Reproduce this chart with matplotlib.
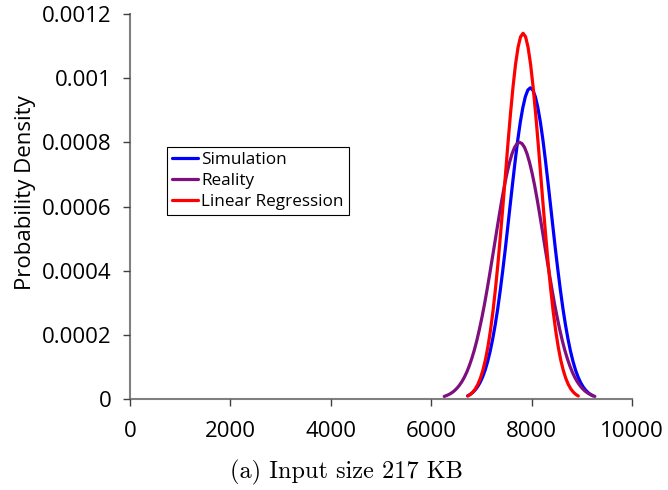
import numpy as np
from matplotlib import pyplot as plt
from matplotlib.ticker import FixedLocator, FixedFormatter

# values (x in KB, y = probability density)
sim_x = [6725, 6775, 6825, 6875, 6925, 6975, 7025, 7075, 7125, 7175, 7225, 7275, 7325,
         7375, 7425, 7475, 7525, 7575, 7625, 7675, 7725, 7775, 7825, 7875, 7925, 7975,
         8025, 8075, 8125, 8175, 8225, 8275, 8325, 8375, 8425, 8475, 8525, 8575, 8625,
         8675, 8725, 8775, 8825, 8875, 8925, 8975, 9025, 9075, 9125, 9175, 9225]
sim_y = [0.0000099, 0.0000142, 0.0000201, 0.0000280, 0.0000383, 0.0000517, 0.0000689,
         0.0000903, 0.000117, 0.000149, 0.000187, 0.000231, 0.000281, 0.000338, 0.000400,
         0.000466, 0.000536, 0.000607, 0.000677, 0.000745, 0.000808, 0.000863, 0.000908,
         0.000942, 0.000963, 0.000970, 0.000963, 0.000942, 0.000908, 0.000863, 0.000808,
         0.000745, 0.000677, 0.000607, 0.000536, 0.000466, 0.000400, 0.000338, 0.000281,
         0.000231, 0.000187, 0.000149, 0.000117, 0.0000903, 0.0000689, 0.0000517,
         0.0000383, 0.0000280, 0.0000201, 0.0000142, 0.0000099]

real_x = [6260, 6310, 6360, 6410, 6460, 6510, 6560, 6610, 6660, 6710, 6760, 6810, 6860,
          6910, 6960, 7010, 7060, 7110, 7160, 7210, 7260, 7310, 7360, 7410, 7460, 7510,
          7560, 7610, 7660, 7710, 7760, 7810, 7860, 7910, 7960, 8010, 8060, 8110, 8160,
          8210, 8260, 8310, 8360, 8410, 8460, 8510, 8560, 8610, 8660, 8710, 8760, 8810,
          8860, 8910, 8960, 9010, 9060, 9110, 9160, 9210, 9260]
real_y = [0.0000081, 0.0000110, 0.0000147, 0.0000194, 0.0000254, 0.0000330, 0.0000424,
          0.0000538, 0.0000677, 0.0000843, 0.000104, 0.000127, 0.000153, 0.000183,
          0.000217, 0.000254, 0.000294, 0.000338, 0.000384, 0.000432, 0.000480, 0.000529,
          0.000577, 0.000623, 0.000666, 0.000704, 0.000737, 0.000764, 0.000784, 0.000796,
          0.000800, 0.000796, 0.000784, 0.000764, 0.000737, 0.000704, 0.000666, 0.000623,
          0.000577, 0.000529, 0.000480, 0.000432, 0.000384, 0.000338, 0.000294, 0.000254,
          0.000217, 0.000183, 0.000153, 0.000127, 0.000104, 0.0000843, 0.0000677,
          0.0000538, 0.0000424, 0.0000330, 0.0000254, 0.0000194, 0.0000147, 0.0000110,
          0.0000081]

lr_x = [6730, 6780, 6830, 6880, 6930, 6980, 7030, 7080, 7130, 7180, 7230, 7280, 7330,
        7380, 7430, 7480, 7530, 7580, 7630, 7680, 7730, 7780, 7830, 7880, 7930, 7980,
        8030, 8080, 8130, 8180, 8230, 8280, 8330, 8380, 8430, 8480, 8530, 8580, 8630,
        8680, 8730, 8780, 8830, 8880, 8930]
lr_y = [0.0000094, 0.0000144, 0.0000216, 0.0000318, 0.0000458, 0.0000649, 0.0000900,
        0.000122, 0.000163, 0.000213, 0.000273, 0.000343, 0.000423, 0.000511, 0.000604,
        0.000701, 0.000798, 0.000890, 0.000973, 0.001043, 0.001096, 0.001129, 0.001140,
        0.001129, 0.001096, 0.001043, 0.000973, 0.000890, 0.000798, 0.000701, 0.000604,
        0.000511, 0.000423, 0.000343, 0.000273, 0.000213, 0.000163, 0.000122, 0.0000900,
        0.0000649, 0.0000458, 0.0000318, 0.0000216, 0.0000144, 0.0000094]

x_ticks = [0, 2000, 4000, 6000, 8000, 10000]
y_ticks = [0, 0.0002, 0.0004, 0.0006, 0.0008, 0.001, 0.0012]
y_labels = ['0', '0.0002', '0.0004', '0.0006', '0.0008', '0.001', '0.0012']

plt.rcParams['font.family'] = ['Open Sans', 'DejaVu Sans']

fig = plt.figure(figsize=(6.68, 4.9), dpi=100)
ax = fig.add_axes([0.1946, 0.1857, 0.7515, 0.7857])

ax.plot(sim_x, sim_y, color='#0000ff', lw=2.3, label='Simulation', solid_capstyle='round')
ax.plot(real_x, real_y, color='#7f0f7f', lw=2.3, label='Reality', solid_capstyle='round')
ax.plot(lr_x, lr_y, color='#ff0000', lw=2.3, label='Linear Regression', solid_capstyle='round')

ax.set_xlim(0, 10000)
ax.set_ylim(0, 0.0012)
ax.xaxis.set_major_locator(FixedLocator(x_ticks))
ax.set_xticklabels([str(v) for v in x_ticks])
ax.yaxis.set_major_locator(FixedLocator(y_ticks))
ax.yaxis.set_major_formatter(FixedFormatter(y_labels))

for s in ['top', 'right']:
    ax.spines[s].set_visible(False)
for s in ['left', 'bottom']:
    ax.spines[s].set_color('#808080')
    ax.spines[s].set_linewidth(1.5)
    ax.spines[s].set_zorder(1)
ax.tick_params(axis='both', direction='out', length=5, width=1, color='#404040',
               labelsize=16)
ax.tick_params(axis='x', pad=11)
ax.tick_params(axis='y', pad=8)

ax.set_ylabel('Probability Density', fontsize=16)
ax.yaxis.set_label_coords(-0.188, 0.537)

leg = ax.legend(loc='upper left', bbox_to_anchor=(0.074, 0.655), fontsize=12.3,
                handlelength=1.5, handletextpad=0.2, borderpad=0.3, labelspacing=0.28,
                fancybox=False, framealpha=1, edgecolor='black', borderaxespad=0)
leg.get_frame().set_linewidth(0.8)

fig.text(0.519, 0.035, '(a) Input size 217 KB', family='cmr10', fontsize=17.5,
         ha='center', va='center')

fig.savefig('out.png', dpi=100)
